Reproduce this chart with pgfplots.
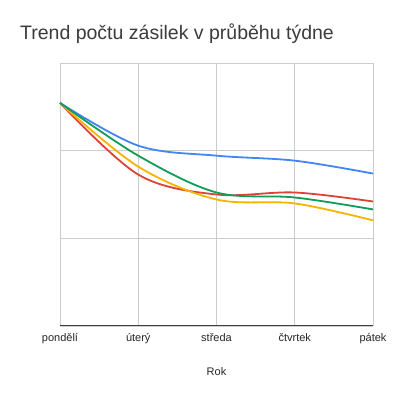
\documentclass[border=0pt]{standalone}
\usepackage{pgfplots}
\pgfplotsset{compat=1.18}
\usepackage{fontspec}
\setmainfont{Liberation Sans}
\definecolor{gblue}{HTML}{4285F4}
\definecolor{gred}{HTML}{DB4437}
\definecolor{gyellow}{HTML}{F4B400}
\definecolor{ggreen}{HTML}{0F9D58}
\definecolor{gridc}{HTML}{CCCCCC}
\definecolor{txt}{HTML}{3C3C3C}
\begin{document}
\begin{tikzpicture}
\useasboundingbox[fill=white] (0,0) rectangle (393bp,399bp);
\node[anchor=base west, font=\fontsize{19.5bp}{23bp}\selectfont, text=txt, inner sep=0pt] at (20bp,359bp) {Trend počtu zásilek v průběhu týdne};
\begin{axis}[
  at={(60bp,73bp)}, anchor=south west,
  scale only axis, width=313bp, height=263bp,
  xmin=0, xmax=4, ymin=0, ymax=300,
  xtick={0,1,2,3,4},
  xticklabels={pondělí,úterý,středa,čtvrtek,pátek},
  ytick={0,100,200,300}, yticklabels={},
  major tick length=0pt,
  xmajorgrids, ymajorgrids,
  grid style={gridc, line width=0.8bp},
  axis line style={draw=none},
  extra y ticks={0}, extra y tick labels={},
  extra y tick style={grid style={black!75, line width=1bp}},
  xticklabel style={font=\fontsize{11bp}{13bp}\selectfont, text=black!85, yshift=-4bp},
  xlabel={Rok},
  xlabel style={font=\fontsize{11bp}{13bp}\selectfont, text=black!85, at={(axis description cs:0.5,0)}, anchor=center, yshift=-46bp},
  every axis plot/.append style={line width=1.8bp, smooth, tension=0.55, no markers},
  clip=false,
]
\addplot[gblue] coordinates {(0,254.5) (1,205.7) (2,194.3) (3,188.6) (4,173.9)};
\addplot[gred] coordinates {(0,254.5) (1,172.7) (2,150.0) (3,152.3) (4,142.0)};
\addplot[gyellow] coordinates {(0,254.5) (1,181.8) (2,144.3) (3,139.8) (4,120.5)};
\addplot[ggreen] coordinates {(0,254.5) (1,194.3) (2,152.3) (3,146.6) (4,133.0)};
\end{axis}
\end{tikzpicture}
\end{document}
